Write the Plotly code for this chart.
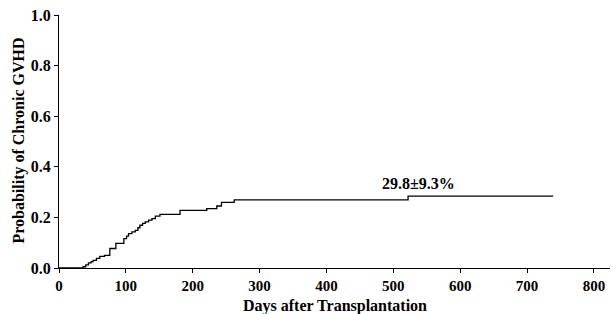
import plotly.graph_objects as go

# Cumulative incidence of chronic GVHD: event day and probability after the event
event_days = [0, 36, 40, 44, 48, 51, 56, 61, 68, 76, 85, 97, 101, 104, 109, 114, 118, 121, 125,
              129, 134, 139, 144, 151, 181, 221, 236, 243, 262, 522, 739]
event_prob = [0.0, 0.005, 0.012, 0.020, 0.025, 0.030, 0.038, 0.046, 0.050, 0.077, 0.097, 0.116,
              0.126, 0.136, 0.143, 0.149, 0.159, 0.169, 0.176, 0.182, 0.189, 0.195, 0.205, 0.212,
              0.228, 0.235, 0.245, 0.259, 0.269, 0.284, 0.284]
x_ticks = [0, 100, 200, 300, 400, 500, 600, 700, 800]
y_ticks = [0.0, 0.2, 0.4, 0.6, 0.8, 1.0]
annot_text = "29.8±9.3%"
annot_x = 537
annot_y = 0.335

font_serif = "Liberation Serif, Times New Roman, serif"

fig = go.Figure()
fig.add_trace(go.Scatter(
    x=event_days, y=event_prob,
    mode="lines", line=dict(color="black", width=1.3, shape="hv"),
    showlegend=False, hoverinfo="skip"))

fig.add_annotation(x=annot_x, y=annot_y, text="<b>" + annot_text + "</b>", showarrow=False,
                   xanchor="center", yanchor="middle",
                   font=dict(family=font_serif, size=16, color="black"))
fig.add_annotation(xref="paper", yref="paper", x=0.5, y=-0.152, text="<b>Days after Transplantation</b>",
                   xanchor="center", yanchor="middle",
                   showarrow=False, font=dict(family=font_serif, size=16, color="black"))
fig.add_annotation(xref="paper", yref="paper", x=-0.072, y=0.505, text="<b>Probability of Chronic GVHD</b>",
                   xanchor="center", yanchor="middle",
                   textangle=-90, showarrow=False, font=dict(family=font_serif, size=16, color="black"))

fig.update_layout(
    width=613, height=314,
    margin=dict(l=59, r=3, t=15, b=46, autoexpand=False),
    plot_bgcolor="white", paper_bgcolor="white",
    font=dict(family=font_serif, color="black"),
    xaxis=dict(range=[0, 824], tickvals=x_ticks, automargin=False,
               ticktext=["<b>%d</b>" % v for v in x_ticks],
               showgrid=False, zeroline=False, showline=True, linecolor="black", linewidth=1.3,
               ticks="outside", ticklen=4, tickcolor="black",
               tickfont=dict(family=font_serif, size=15, color="black")),
    yaxis=dict(range=[0, 1.0], tickvals=y_ticks, automargin=False,
               ticktext=["<b>%.1f</b>" % v for v in y_ticks],
               showgrid=False, zeroline=False, showline=True, linecolor="black", linewidth=1.3,
               ticks="outside", ticklen=4, tickcolor="black",
               tickfont=dict(family=font_serif, size=16, color="black")),
)
fig.write_html("out.html", config={"displayModeBar": False},
               post_script="document.body.style.margin='0';document.body.style.overflow='hidden';")
